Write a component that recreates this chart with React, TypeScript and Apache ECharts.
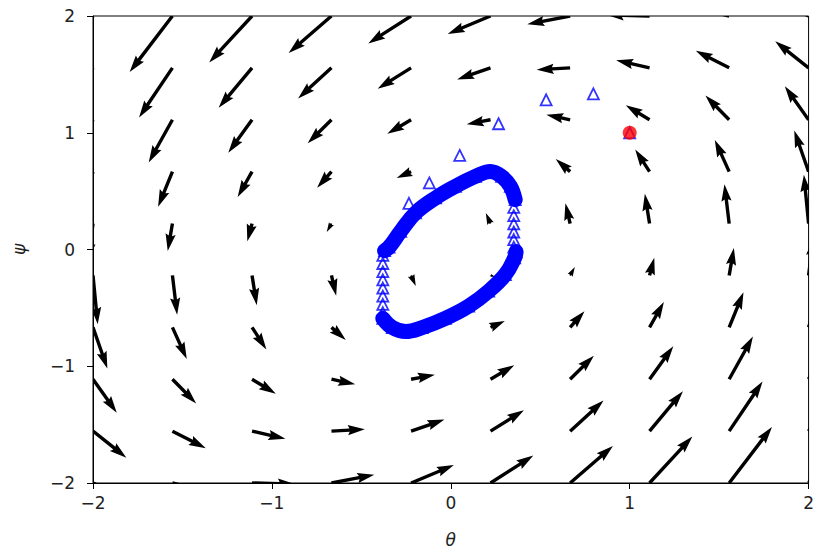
import React, { useEffect, useRef } from "react";
import * as echarts from "echarts";

// Quiver grid (θ along x, ψ along y), rows from top (ψ = 2) to bottom (ψ = -2)
const gridX = [-2, -1.556, -1.111, -0.667, -0.222, 0.222, 0.667, 1.111, 1.556, 2];
const gridY = [2, 1.556, 1.111, 0.667, 0.222, -0.222, -0.667, -1.111, -1.556, -2];

// Horizontal component of the field for each row (read from the arrows)
const uByRow = [-2.0, -1.56, -1.11, -0.67, -0.22, 0.22, 0.67, 1.11, 1.56, 2.0];

// Vertical component of the field, one row per gridY value
const vRows = [
  [-3.06, -2.62, -2.17, -1.73, -1.28, -0.84, -0.39, 0.05, 0.5, 0.94],
  [-2.76, -2.32, -1.87, -1.43, -0.98, -0.54, -0.09, 0.35, 0.8, 1.24],
  [-2.43, -1.99, -1.54, -1.1, -0.65, -0.21, 0.24, 0.68, 1.13, 1.57],
  [-2.08, -1.64, -1.19, -0.75, -0.3, 0.14, 0.59, 1.03, 1.48, 1.92],
  [-1.72, -1.28, -0.83, -0.39, 0.06, 0.5, 0.95, 1.39, 1.84, 2.28],
  [-2.28, -1.84, -1.39, -0.95, -0.5, -0.06, 0.39, 0.83, 1.28, 1.72],
  [-1.92, -1.48, -1.03, -0.59, -0.14, 0.3, 0.75, 1.19, 1.64, 2.08],
  [-1.57, -1.13, -0.68, -0.24, 0.21, 0.65, 1.1, 1.54, 1.99, 2.43],
  [-1.24, -0.8, -0.35, 0.09, 0.54, 0.98, 1.43, 1.87, 2.32, 2.76],
  [-0.94, -0.5, -0.05, 0.39, 0.84, 1.28, 1.73, 2.17, 2.62, 3.06],
];

// Trajectory: first points approaching the cycle
const approachX = [1, 0.797, 0.533, 0.267, 0.05, -0.12, -0.234];
const approachY = [1, 1.333, 1.282, 1.077, 0.806, 0.57, 0.395];

// Dense part of the cycle (upper arc, right to left)
const upperArcX = [0.36, 0.333, 0.284, 0.221, 0.138, 0.026, -0.085, -0.197, -0.28, -0.345, -0.37];
const upperArcY = [0.427, 0.541, 0.626, 0.669, 0.626, 0.541, 0.442, 0.314, 0.156, 0.02, -0.01];

// Dense part of the cycle (lower arc, left to right)
const lowerArcX = [-0.38, -0.327, -0.252, -0.16, -0.03, 0.1, 0.212, 0.305, 0.357, 0.365];
const lowerArcY = [-0.59, -0.669, -0.703, -0.669, -0.59, -0.485, -0.356, -0.214, -0.071, -0.02];

// Sparser vertical runs of the cycle
const leftRunX = [-0.38, -0.38, -0.38, -0.38, -0.38, -0.38, -0.38, -0.38];
const leftRunY = [-0.05, -0.12, -0.19, -0.26, -0.33, -0.4, -0.47, -0.54];
const rightRunX = [0.352, 0.352, 0.352, 0.352, 0.352, 0.352];
const rightRunY = [0.36, 0.29, 0.22, 0.15, 0.085, 0.02];

// Initial condition
const startX = [1];
const startY = [1];

const FONT = "DejaVu Sans";
const TEXT = "#222";

const zip = (xs: number[], ys: number[]) => xs.map((x, i) => [x, ys[i]]);

export default function App() {
  const ref = useRef<HTMLDivElement>(null);

  useEffect(() => {
    const chart = echarts.init(ref.current!, undefined, { renderer: "svg" });

    const arrowData: number[][] = [];
    gridY.forEach((y, i) =>
      gridX.forEach((x, j) => arrowData.push([x, y, uByRow[i], vRows[i][j]]))
    );

    const K = 21.4; // pixels per field unit
    const W = 3.4; // shaft width in px
    const renderArrow = (_params: any, api: any) => {
      const x = api.value(0);
      const y = api.value(1);
      const u = api.value(2);
      const v = api.value(3);
      const p = api.coord([x, y]);
      const dx = u * K;
      const dy = -v * K;
      const L = Math.hypot(dx, dy);
      if (L < 1e-6) return { type: "group", children: [] };
      const c = dx / L;
      const s = dy / L;
      const hl = 5 * W;
      const hal = 4.5 * W;
      const hw = 1.5 * W;
      const sw = 0.5 * W;
      let local: number[][];
      if (L < W) {
        local = [];
        for (let k = 0; k < 6; k++) {
          const th = (k * Math.PI) / 3;
          local.push([Math.cos(th) * W * 0.5, Math.sin(th) * W * 0.5]);
        }
      } else if (L < hl) {
        const k = L / hl;
        local = [
          [0, sw],
          [hl - hal, sw],
          [0, hw],
          [hl, 0],
          [0, -hw],
          [hl - hal, -sw],
          [0, -sw],
        ].map(([a, b]) => [a * k, b * k]);
      } else {
        local = [
          [0, sw],
          [L - hal, sw],
          [L - hl, hw],
          [L, 0],
          [L - hl, -hw],
          [L - hal, -sw],
          [0, -sw],
        ];
      }
      const points = local.map(([a, b]) => [p[0] + a * c - b * s, p[1] + a * s + b * c]);
      return { type: "polygon", shape: { points }, style: { fill: "#000" } };
    };

    const triangles = [
      ...zip(approachX, approachY),
      ...zip(upperArcX, upperArcY),
      ...zip(lowerArcX, lowerArcY),
      ...zip(leftRunX, leftRunY),
      ...zip(rightRunX, rightRunY),
    ];

    const axisCommon = {
      type: "value" as const,
      min: -2,
      max: 2,
      interval: 1,
      nameLocation: "middle" as const,
      nameTextStyle: { fontSize: 17, fontStyle: "italic", color: TEXT, fontFamily: FONT },
      axisLine: { show: true, onZero: false, lineStyle: { color: "#000", width: 1 } },
      axisTick: { show: true, length: 6, lineStyle: { color: "#000", width: 1 } },
      splitLine: { show: false },
    };

    chart.setOption({
      animation: false,
      backgroundColor: "#fff",
      grid: {
        left: 93,
        top: 16,
        width: 718,
        height: 468,
        show: true,
        borderColor: "#000",
        borderWidth: 1,
        backgroundColor: "transparent",
      },
      xAxis: {
        ...axisCommon,
        name: "θ",
        nameGap: 48,
        axisLabel: {
          fontSize: 17,
          color: TEXT,
          fontFamily: FONT,
          margin: 11,
          formatter: (val: number) => String(val).replace("-", "\u2212"),
        },
      },
      yAxis: {
        ...axisCommon,
        name: "ψ",
        nameGap: 66,
        axisLabel: {
          fontSize: 17,
          color: TEXT,
          fontFamily: FONT,
          margin: 18,
          formatter: (val: number) => String(val).replace("-", "\u2212"),
        },
      },
      series: [
        {
          type: "custom",
          renderItem: renderArrow,
          data: arrowData,
          encode: { x: 0, y: 1 },
          clip: true,
          silent: true,
          z: 1,
        },
        {
          type: "line",
          data: zip(upperArcX, upperArcY),
          symbol: "none",
          smooth: 0.4,
          lineStyle: { color: "#0000ff", width: 15, cap: "round", join: "round" },
          silent: true,
          z: 2,
        },
        {
          type: "line",
          data: zip(lowerArcX, lowerArcY),
          symbol: "none",
          smooth: 0.4,
          lineStyle: { color: "#0000ff", width: 15, cap: "round", join: "round" },
          silent: true,
          z: 2,
        },
        {
          type: "scatter",
          data: triangles,
          symbol: "triangle",
          symbolSize: [11, 11],
          itemStyle: { color: "rgba(0,0,0,0)", borderColor: "#0000ff", borderWidth: 1.8 },
          silent: true,
          z: 3,
        },
        {
          type: "scatter",
          data: zip(startX, startY),
          symbol: "circle",
          symbolSize: 14,
          itemStyle: { color: "#ff0000" },
          silent: true,
          z: 4,
        },
      ],
    });

    return () => chart.dispose();
  }, []);

  return (
    <div
      ref={ref}
      style={{ position: "fixed", left: 0, top: 0, width: 817, height: 553, background: "#fff" }}
    />
  );
}
